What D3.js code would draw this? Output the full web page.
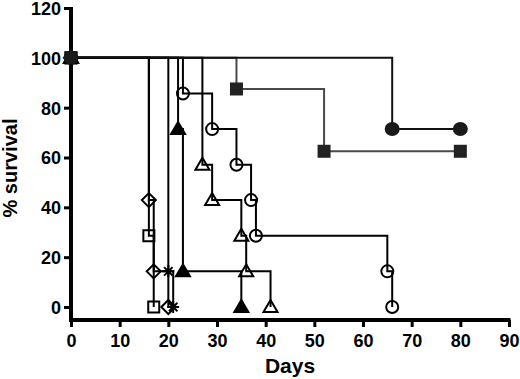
<!DOCTYPE html>
<html lang="en">
<head>
<meta charset="UTF-8">
<title>Survival curves</title>
<script src="https://d3js.org/d3.v7.min.js"></script>
<style>
    body { margin: 0; background: #fff; }
    text { font-family: "Liberation Sans", Arial, sans-serif; font-weight: bold; fill: #000; }
</style>
</head>
<body>
<div id="chart"></div>
<script>
    const xTicks = [0, 10, 20, 30, 40, 50, 60, 70, 80, 90];
    const yTicks = [0, 20, 40, 60, 80, 100, 120];

    // day of each death and % survival right after it, per group
    const filledCircleDays = [66];
    const filledCircleSurv = [71.4];
    const filledSquareDays = [34, 52];
    const filledSquareSurv = [87.5, 62.5];
    const openCircleDays = [23, 29, 34, 37, 38, 65, 66];
    const openCircleSurv = [85.7, 71.4, 57.1, 42.9, 28.6, 14.3, 0];
    const openTriangleDays = [27, 29, 35, 36, 41];
    const openTriangleSurv = [57.1, 42.9, 28.6, 14.3, 0];
    const diamondDays = [16, 17, 20];
    const diamondSurv = [42.9, 14.3, 0];
    const openSquareDays = [16, 17];
    const openSquareSurv = [28.6, 0];
    const starDays = [20, 21];
    const starSurv = [14.3, 0];
    const filledTriangleDays = [22, 23, 35];
    const filledTriangleSurv = [71.4, 14.3, 0];
    const lastDay = 80; // survivors followed up to here

    // drawing order: later groups end up on top
    const groups = [
        { shape: "square", fill: true, line: "#4a4a4a", mark: "#222", days: filledSquareDays, surv: filledSquareSurv },
        { shape: "circle", fill: false, line: "#000", mark: "#000", days: openCircleDays, surv: openCircleSurv },
        { shape: "triangle", fill: false, line: "#000", mark: "#000", days: openTriangleDays, surv: openTriangleSurv },
        { shape: "diamond", fill: false, line: "#000", mark: "#000", days: diamondDays, surv: diamondSurv },
        { shape: "square", fill: false, line: "#000", mark: "#000", days: openSquareDays, surv: openSquareSurv },
        { shape: "star", fill: false, line: "#000", mark: "#000", days: starDays, surv: starSurv },
        { shape: "triangle", fill: true, line: "#000", mark: "#000", days: filledTriangleDays, surv: filledTriangleSurv },
        { shape: "circle", fill: true, line: "#111", mark: "#1a1a1a", days: filledCircleDays, surv: filledCircleSurv }
    ];

    const width = 520;
    const height = 379;
    const axisY = 320;

    const x = d3.scaleLinear().domain([0, 90]).range([71, 509]);
    const y = d3.scaleLinear().domain([0, 120]).range([307, 8]);

    const svg = d3.select("#chart").append("svg")
        .attr("width", width)
        .attr("height", height);

    // axes
    const xAxis = svg.append("g")
        .attr("transform", "translate(0," + axisY + ")")
        .call(d3.axisBottom(x).tickValues(xTicks).tickSize(7).tickPadding(6));
    const yAxis = svg.append("g")
        .attr("transform", "translate(" + x(0) + ",0)")
        .call(d3.axisLeft(y).tickValues(yTicks).tickSize(7).tickPadding(3));

    [xAxis, yAxis].forEach(a => {
        a.select(".domain").remove();
        a.selectAll(".tick line").attr("stroke", "#000").attr("stroke-width", 3);
        a.selectAll(".tick text").style("font-size", "18px");
    });
    xAxis.selectAll(".tick text").attr("dy", "0.8em");
    yAxis.selectAll(".tick text").attr("dy", "0.36em");

    svg.append("line")
        .attr("x1", x(0)).attr("x2", x(0))
        .attr("y1", y(120) - 1).attr("y2", axisY + 2)
        .attr("stroke", "#000").attr("stroke-width", 4);
    svg.append("line")
        .attr("x1", x(0) - 2).attr("x2", x(90) + 1.5)
        .attr("y1", axisY).attr("y2", axisY)
        .attr("stroke", "#000").attr("stroke-width", 4);

    svg.append("text")
        .attr("x", (x(0) + x(90)) / 2)
        .attr("y", 373)
        .attr("text-anchor", "middle")
        .style("font-size", "21px")
        .text("Days");
    svg.append("text")
        .attr("transform", "translate(17,168) rotate(-90)")
        .attr("text-anchor", "middle")
        .style("font-size", "20px")
        .text("% survival");

    function stepPoints(g) {
        const pts = [[0, 100]];
        let prev = 100;
        g.days.forEach((t, i) => {
            pts.push([t, prev]);
            pts.push([t, g.surv[i]]);
            prev = g.surv[i];
        });
        if (prev > 0) pts.push([lastDay, prev]);
        return pts;
    }

    function markerPoints(g) {
        const pts = [[0, 100]];
        g.days.forEach((t, i) => pts.push([t, g.surv[i]]));
        const last = g.surv[g.surv.length - 1];
        if (last > 0) pts.push([lastDay, last]);
        return pts;
    }

    const line = d3.line().x(d => x(d[0])).y(d => y(d[1]));

    function drawMarker(sel, g) {
        if (g.shape === "circle") {
            sel.append("ellipse").attr("rx", g.fill ? 6.5 : 6).attr("ry", 6);
        } else if (g.shape === "square") {
            sel.append("rect").attr("x", -5.5).attr("y", -5.5).attr("width", 11).attr("height", 11);
        } else if (g.shape === "triangle") {
            sel.append("path").attr("d", "M0,-7L7,5L-7,5Z");
        } else if (g.shape === "diamond") {
            sel.append("path").attr("d", "M0,-7L7,0L0,7L-7,0Z");
        } else if (g.shape === "star") {
            const p = d3.path();
            for (let k = 0; k < 4; k++) {
                const a = k * Math.PI / 4;
                p.moveTo(-6 * Math.cos(a), -6 * Math.sin(a));
                p.lineTo(6 * Math.cos(a), 6 * Math.sin(a));
            }
            sel.append("path").attr("d", p.toString());
        }
        sel.selectAll("*")
            .attr("fill", g.fill ? g.mark : "none")
            .attr("stroke", g.mark)
            .attr("stroke-width", 2);
    }

    // step lines first, then the symbols over them
    groups.forEach(g => {
        svg.append("path")
            .datum(stepPoints(g))
            .attr("d", line)
            .attr("fill", "none")
            .attr("stroke", g.line)
            .attr("stroke-width", 2);
    });

    groups.forEach(g => {
        svg.append("g").selectAll("g")
            .data(markerPoints(g))
            .enter()
            .append("g")
            .attr("transform", d => "translate(" + x(d[0]) + "," + y(d[1]) + ")")
            .each(function () { drawMarker(d3.select(this), g); });
    });
</script>
</body>
</html>
